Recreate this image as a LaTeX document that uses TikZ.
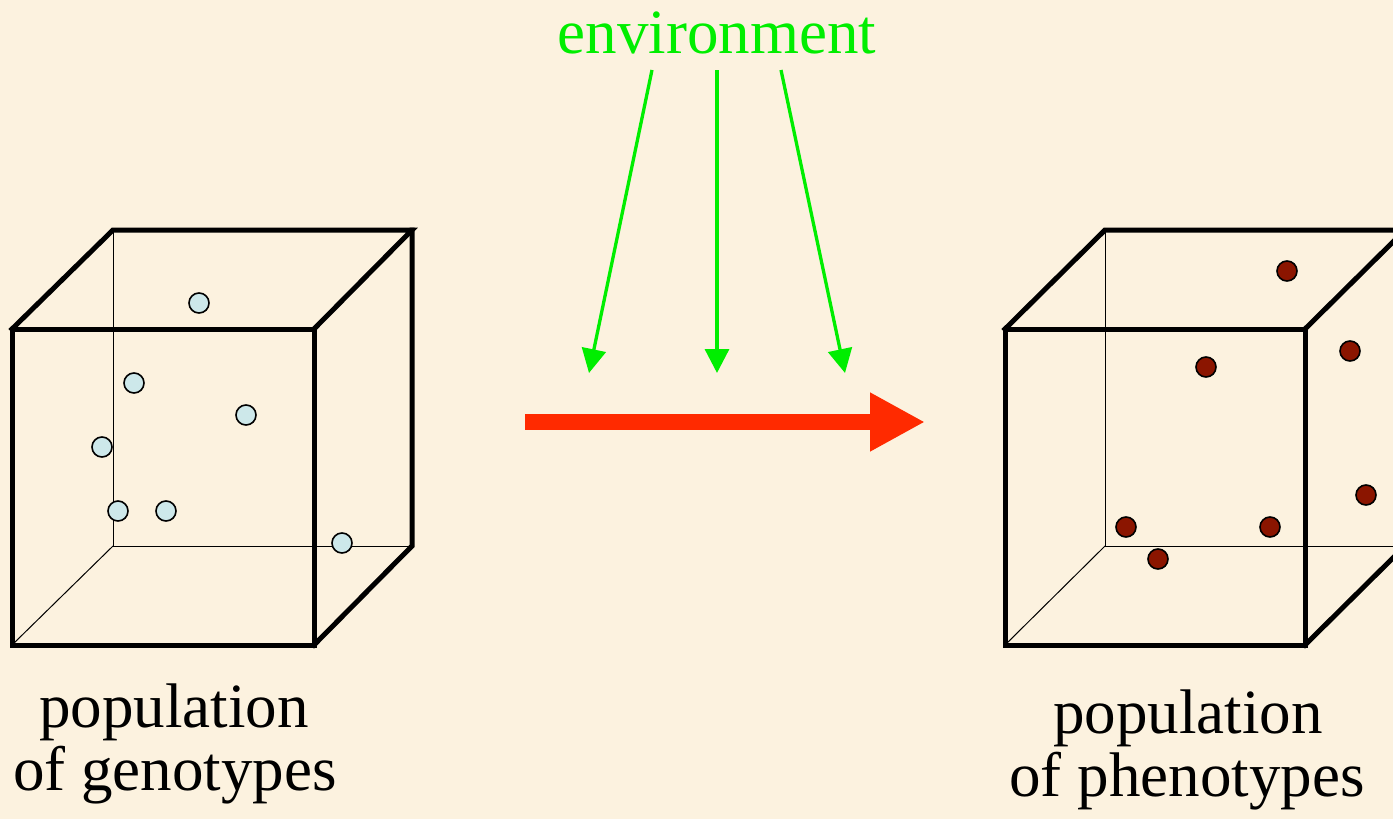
\documentclass[tikz,border=0pt]{standalone}
\usepackage{fontspec}
\setmainfont{Liberation Serif}
\usetikzlibrary{arrows.meta}
\definecolor{bg}{HTML}{FCF2DF}
\definecolor{envgreen}{HTML}{00EE00}
\definecolor{arrred}{HTML}{FF2A00}
\definecolor{geno}{HTML}{CDE8EA}
\definecolor{pheno}{HTML}{8B1500}
\tikzset{
  thickedge/.style={line width=5pt, line join=miter, line cap=rect},
  thinedge/.style={line width=1pt},
  gdot/.style={circle, draw=black, line width=1.6pt, fill=geno, minimum size=20pt, inner sep=0pt},
  pdot/.style={circle, draw=black, line width=1.6pt, fill=pheno, minimum size=20pt, inner sep=0pt},
  envarrow/.style={envgreen, line width=3.3pt, -{Triangle[length=24pt,width=24pt]}},
  mainarrow/.style={arrred, line width=16pt, -{Triangle[length=55pt,width=55pt]}},
  bigtext/.style={font=\fontsize{63}{63}\selectfont, inner sep=0pt, anchor=base},
}
\begin{document}
\begin{tikzpicture}[x=1pt,y=-1pt]
\useasboundingbox (0,0) rectangle (1393,819);
\clip (0,0) rectangle (1393,819);
\fill[bg] (0,0) rectangle (1393,819);

% ---- left cube (genotypes)
\coordinate (lFTL) at (12,329);
\coordinate (lFTR) at (314,329);
\coordinate (lFBR) at (314,645);
\coordinate (lFBL) at (12,645);
\coordinate (lBTL) at (113,230);
\coordinate (lBTR) at (412,230);
\coordinate (lBBR) at (412,546);
\coordinate (lBBL) at (113,546);
\draw[thinedge] (lBTL) -- (lBBL) -- (lBBR);
\draw[thinedge] (lBBL) -- (lFBL);
\draw[thickedge] (lFTL) -- (lFTR) -- (lFBR) -- (lFBL) -- cycle;
\draw[thickedge] (lFTL) -- (lBTL) -- (lBTR) -- (lFTR);
\draw[thickedge] (lBTR) -- (lBBR) -- (lFBR);

\node[gdot] (g1) at (199,303) {};
\node[gdot] (g2) at (134,383) {};
\node[gdot] (g3) at (246,415) {};
\node[gdot] (g4) at (102,447) {};
\node[gdot] (g5) at (118,511) {};
\node[gdot] (g6) at (166,511) {};
\node[gdot] (g7) at (342,543) {};

% ---- right cube (phenotypes)
\coordinate (rFTL) at (1005,329);
\coordinate (rFTR) at (1305,329);
\coordinate (rFBR) at (1305,645);
\coordinate (rFBL) at (1005,645);
\coordinate (rBTL) at (1105,230);
\coordinate (rBTR) at (1405,230);
\coordinate (rBBR) at (1405,546);
\coordinate (rBBL) at (1105,546);
\draw[thinedge] (rBTL) -- (rBBL) -- (rBBR);
\draw[thinedge] (rBBL) -- (rFBL);
\draw[thickedge] (rFTL) -- (rFTR) -- (rFBR) -- (rFBL) -- cycle;
\draw[thickedge] (rFTL) -- (rBTL) -- (rBTR) -- (rFTR);
\draw[thickedge] (rBTR) -- (rBBR) -- (rFBR);

\node[pdot] (p1) at (1287,271) {};
\node[pdot] (p2) at (1206,367) {};
\node[pdot] (p3) at (1350,351) {};
\node[pdot] (p4) at (1366,495) {};
\node[pdot] (p5) at (1126,527) {};
\node[pdot] (p6) at (1270,527) {};
\node[pdot] (p7) at (1158,559) {};

% ---- environment
\node[bigtext, text=envgreen] (env) at (717,53) {environment};
\coordinate (e1s) at (652,70);
\coordinate (e2s) at (717,70);
\coordinate (e3s) at (781,70);
\coordinate (e1t) at (589,373);
\coordinate (e2t) at (717,373);
\coordinate (e3t) at (845,373);
\draw[envarrow] (e1s) -- (e1t);
\draw[envarrow] (e2s) -- (e2t);
\draw[envarrow] (e3s) -- (e3t);

% ---- main arrow
\coordinate (ms) at (525,422);
\coordinate (mt) at (925,422);
\draw[mainarrow] (ms) -- (mt);

% ---- labels
\node[bigtext] (lg1) at (174,727) {population};
\node[bigtext] (lg2) at (175,790) {of genotypes};
\node[bigtext] (lp1) at (1188,733) {population};
\node[bigtext] (lp2) at (1187,796) {of phenotypes};
\end{tikzpicture}
\end{document}
